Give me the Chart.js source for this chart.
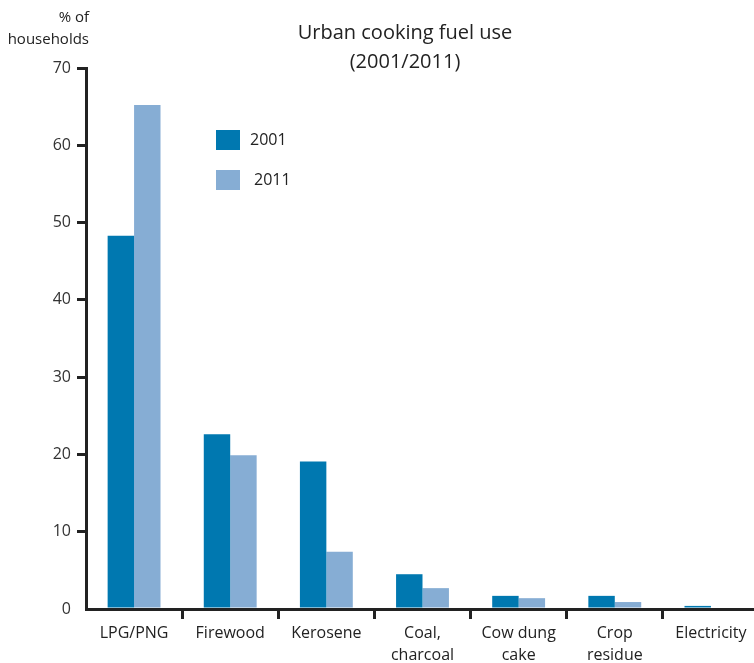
<!DOCTYPE html>
<html>
<head>
<meta charset="utf-8">
<script src="https://cdn.jsdelivr.net/npm/chart.js@4/dist/chart.umd.min.js"></script>
<style>
  html, body { margin: 0; padding: 0; background: #fff; overflow: hidden; }
  #wrap { width: 762px; height: 663px; }
</style>
</head>
<body>
<div id="wrap"><canvas id="myCanvas" width="762" height="663"></canvas></div>
<script>
'use strict';

// chart data
const categories = [['LPG/PNG'], ['Firewood'], ['Kerosene'], ['Coal,', 'charcoal'], ['Cow dung', 'cake'], ['Crop', 'residue'], ['Electricity']];
const seriesNames = ['2001', '2011'];
const values2001 = [48.3, 22.6, 19.1, 4.5, 1.7, 1.7, 0.4];
const values2011 = [65.2, 19.9, 7.4, 2.7, 1.4, 0.9, 0];
const yTicks = [0, 10, 20, 30, 40, 50, 60, 70];

const colors = ['#0078b0', '#86add4'];
const fontFamily = '"Open Sans", "Noto Sans", sans-serif';

// title, axis title and legend drawn by hand
const decorations = {
  id: 'decorations',
  afterDraw(chart) {
    const ctx = chart.ctx;
    ctx.save();
    ctx.fillStyle = '#222';
    ctx.textBaseline = 'middle';

    ctx.font = '20px ' + fontFamily;
    ctx.textAlign = 'center';
    ctx.fillText('Urban cooking fuel use', 405, 33);
    ctx.fillText('(2001/2011)', 405, 62);

    ctx.font = '15px ' + fontFamily;
    ctx.textAlign = 'right';
    ctx.fillText('% of', 89, 18);
    ctx.fillText('households', 89, 40);

    ctx.font = '16px ' + fontFamily;
    ctx.textAlign = 'left';
    chart.data.datasets.forEach(function(ds, i) {
      ctx.fillStyle = ds.backgroundColor;
      ctx.fillRect(216, 130 + i * 40, 24, 20);
      ctx.fillStyle = '#222';
      ctx.fillText(ds.label, 250 + i * 4, 140 + i * 40);
    });
    ctx.restore();
  }
};

const data = {
  labels: categories,
  datasets: [{
    label: seriesNames[0],
    data: values2001,
    backgroundColor: colors[0]
  },
  {
    label: seriesNames[1],
    data: values2011,
    backgroundColor: colors[1]
  }]
};

const config = {
  type: 'bar',
  data: data,
  options: {
    responsive: false,
    animation: false,
    layout: { padding: { top: 68, right: 3, left: 0, bottom: 0 } },
    datasets: {
      bar: { categoryPercentage: 0.55, barPercentage: 1 }
    },
    plugins: {
      legend: { display: false },
      title: { display: false },
      tooltip: { enabled: false }
    },
    scales: {
      x: {
        afterFit(scale) { scale.height = 54; },
        grid: {
          drawOnChartArea: false,
          drawTicks: true,
          tickLength: 10,
          lineWidth: 3,
          color: function(c) { return c.index === 0 ? 'rgba(0,0,0,0)' : '#222'; }
        },
        border: { display: true, width: 3, color: '#222', z: 1 },
        ticks: {
          color: '#222',
          padding: 3,
          maxRotation: 0,
          autoSkip: false,
          font: { family: fontFamily, size: 16, lineHeight: 1.375 }
        }
      },
      y: {
        min: yTicks[0],
        max: yTicks[yTicks.length - 1],
        afterFit(scale) { scale.width = 86; },
        afterBuildTicks(scale) { scale.ticks = yTicks.map(function(v) { return { value: v }; }); },
        grid: {
          drawOnChartArea: false,
          drawTicks: true,
          tickLength: 9,
          lineWidth: 3,
          color: function(c) { return c.tick && c.tick.value === 0 ? 'rgba(0,0,0,0)' : '#222'; }
        },
        border: { display: true, width: 3, color: '#222' },
        ticks: {
          color: '#333',
          padding: 6,
          font: { family: fontFamily, size: 16 }
        }
      }
    }
  },
  plugins: [decorations]
};

const chart = document.getElementById('myCanvas');
const myChart = new Chart(chart, config);
</script>
</body>
</html>
